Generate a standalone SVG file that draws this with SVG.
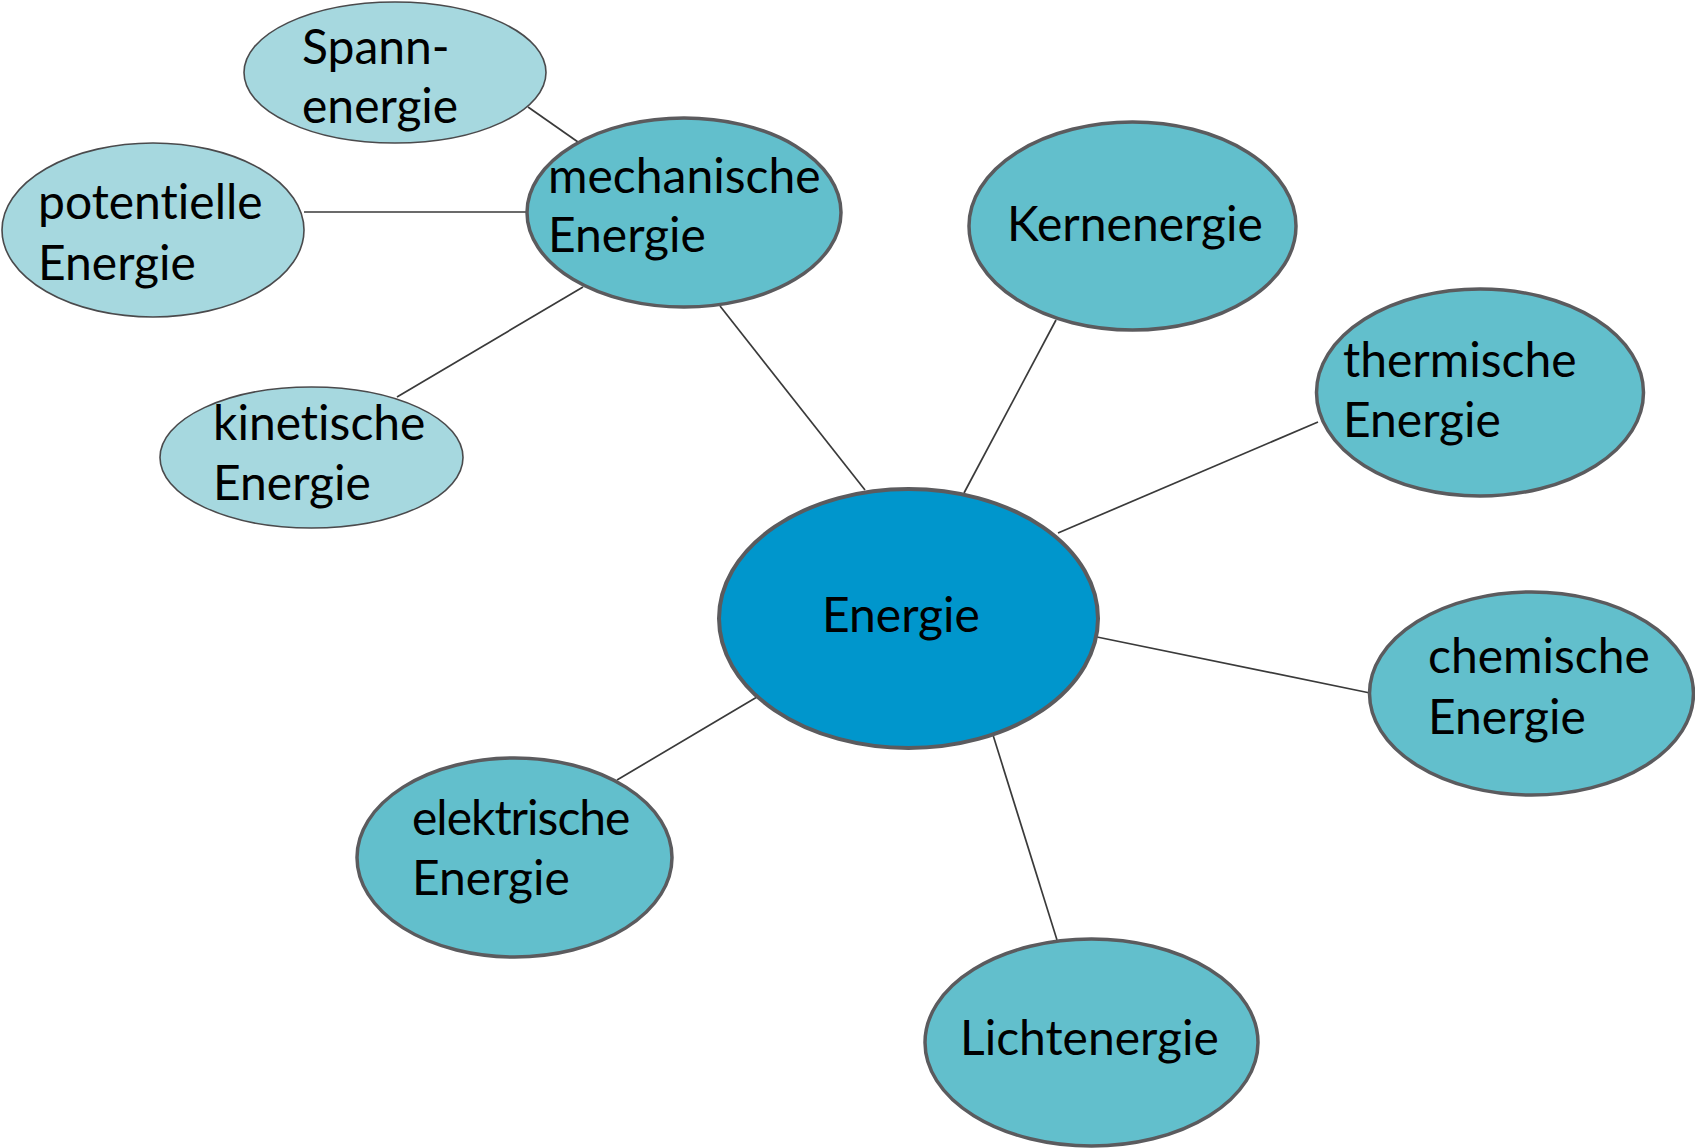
<svg xmlns="http://www.w3.org/2000/svg" width="1695" height="1148" viewBox="0 0 1695 1148">
<style>
.t{font-family:Lato,"Open Sans","Liberation Sans",sans-serif;font-size:48px;fill:#000;font-variant-ligatures:none;font-feature-settings:"liga" 0,"clig" 0}
.light{fill:#A6D8DF;stroke:#4a4a4c;stroke-width:1.6}
.mid{fill:#62BFCC;stroke:#5b5b5e;stroke-width:3.5}
.core{fill:#0096CC;stroke:#5b5b5e;stroke-width:4}
.c{stroke:#3a3a3a;stroke-width:1.7;fill:none}
</style>
<rect width="1695" height="1148" fill="#fff"/>
<g id="connectors">
<line class="c" x1="528" y1="107" x2="578" y2="142"/>
<line class="c" x1="304" y1="212" x2="527" y2="212"/>
<line class="c" x1="397" y1="397" x2="583" y2="287"/>
<line class="c" x1="720" y1="306" x2="865" y2="490"/>
<line class="c" x1="1056" y1="320" x2="964" y2="493"/>
<line class="c" x1="1318" y1="422" x2="1058" y2="533"/>
<line class="c" x1="1097" y1="637" x2="1370" y2="693"/>
<line class="c" x1="993" y1="735" x2="1057" y2="940"/>
<line class="c" x1="757" y1="697" x2="617" y2="780"/>
</g>
<g id="node-spannenergie">
<ellipse class="light" cx="395" cy="72.5" rx="151" ry="70.5"/>
<text class="t" x="302" y="64">Spann-</text>
<text class="t" x="302" y="123">energie</text>
</g>
<g id="node-potentielle">
<ellipse class="light" cx="153" cy="230" rx="151" ry="87"/>
<text class="t" x="38" y="219">potentielle</text>
<text class="t" x="38" y="280">Energie</text>
</g>
<g id="node-kinetische">
<ellipse class="light" cx="311.5" cy="457.5" rx="151.5" ry="70.5"/>
<text class="t" x="213" y="440">kinetische</text>
<text class="t" x="213" y="500">Energie</text>
</g>
<g id="node-mechanische">
<ellipse class="mid" cx="684" cy="212.5" rx="157" ry="94.5"/>
<text class="t" x="548" y="193">mechanische</text>
<text class="t" x="548" y="252">Energie</text>
</g>
<g id="node-kernenergie">
<ellipse class="mid" cx="1132.5" cy="226" rx="163.5" ry="104"/>
<text class="t" x="1007" y="241">Kernenergie</text>
</g>
<g id="node-thermische">
<ellipse class="mid" cx="1480" cy="392.5" rx="163.5" ry="103.5"/>
<text class="t" x="1343" y="377">thermische</text>
<text class="t" x="1343" y="437">Energie</text>
</g>
<g id="node-chemische">
<ellipse class="mid" cx="1531.5" cy="693.5" rx="162" ry="101.5"/>
<text class="t" x="1428" y="673">chemische</text>
<text class="t" x="1428" y="734">Energie</text>
</g>
<g id="node-lichtenergie">
<ellipse class="mid" cx="1091.5" cy="1042.5" rx="166.5" ry="103.5"/>
<text class="t" x="960" y="1055">Lichtenergie</text>
</g>
<g id="node-elektrische">
<ellipse class="mid" cx="514.5" cy="857.5" rx="157.5" ry="99.5"/>
<text class="t" x="412" y="835" letter-spacing="-1">elektrische</text>
<text class="t" x="412" y="895">Energie</text>
</g>
<g id="node-energie">
<ellipse class="core" cx="908.5" cy="618.5" rx="189.5" ry="129.5"/>
<text class="t" x="822" y="632">Energie</text>
</g>
</svg>
